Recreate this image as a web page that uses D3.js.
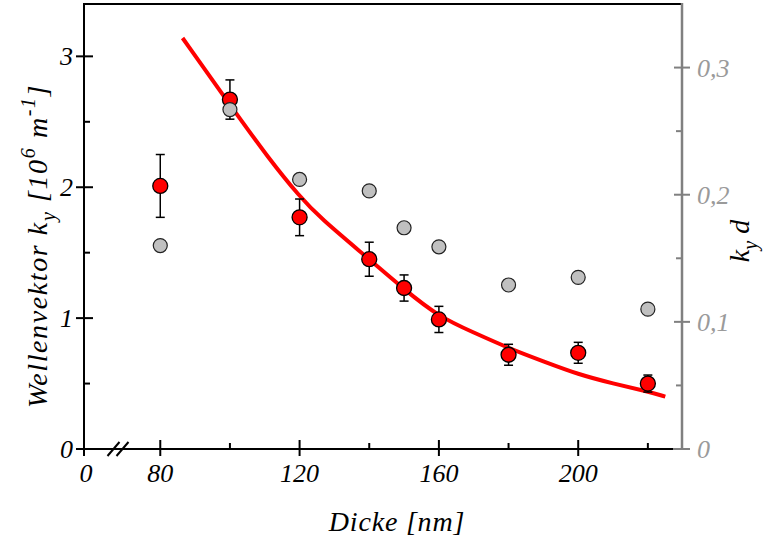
<!DOCTYPE html>
<html>
<head>
<meta charset="utf-8">
<script src="https://cdn.jsdelivr.net/npm/d3@7"></script>
<style>
  html, body { margin: 0; padding: 0; background: #fff; }
  svg { display: block; }
  text { font-family: "Liberation Serif", "Times New Roman", serif; font-style: italic; }
</style>
</head>
<body>
<svg id="chart" width="769" height="543"></svg>
<script>
// ---- data ----
const thickness = [80, 100, 120, 140, 150, 160, 180, 200, 220];          // Dicke [nm]
const ky        = [2.01, 2.67, 1.77, 1.45, 1.23, 0.99, 0.72, 0.735, 0.50]; // 10^6 m^-1
const kyErr     = [0.24, 0.15, 0.14, 0.13, 0.10, 0.10, 0.08, 0.08, 0.065];
const kyd       = [0.160, 0.267, 0.212, 0.203, 0.174, 0.159, 0.129, 0.135, 0.110];
const fitX      = [86.4, 100, 111.4, 120, 125.7, 140, 150, 160, 170, 180, 190, 200, 210, 220, 225];
const fitY      = [3.14, 2.63, 2.21, 1.93, 1.77, 1.45, 1.22, 1.01, 0.89, 0.77, 0.67, 0.57, 0.50, 0.44, 0.40];

const xTicks      = [80, 120, 160, 200];
const xMinorTicks = [100, 140, 180, 220];
const xBreakLabel = "0";
const yLeftTicks  = [0, 1, 2, 3];
const yLeftMinor  = [0.5, 1.5, 2.5];
const yRightTicks = [0, 0.1, 0.2, 0.3];
const yRightLabels = ["0", "0,1", "0,2", "0,3"];
const yRightMinor = [0.05, 0.15, 0.25];

// ---- layout ----
const L = 84, R = 682, T = 4, B = 449;
const svg = d3.select("#chart");
const x = d3.scaleLinear().domain([58.1, 229.8]).range([L, R]);
const yL = d3.scaleLinear().domain([0, 3.4]).range([B, T]);
const yR = d3.scaleLinear().domain([0, 0.35]).range([B, T]);
const breakAt = 68;

const black = "#000", grey = "#808080", greyText = "#9a9a9a";

// frame: top, left, bottom
svg.append("line").attr("x1", L).attr("x2", R - 1).attr("y1", T).attr("y2", T)
  .attr("stroke", black).attr("stroke-width", 2);
svg.append("line").attr("x1", L).attr("x2", L).attr("y1", T - 1).attr("y2", B)
  .attr("stroke", black).attr("stroke-width", 2);
svg.append("line").attr("x1", L - 1).attr("x2", R - 8).attr("y1", B).attr("y2", B)
  .attr("stroke", black).attr("stroke-width", 2);

// left axis ticks
yLeftTicks.forEach((v, i) => {
  svg.append("line").attr("x1", L - 8).attr("x2", L + 9).attr("y1", yL(v)).attr("y2", yL(v))
    .attr("stroke", black).attr("stroke-width", 2);
  svg.append("text").attr("x", L - 11).attr("y", yL(v) + 9).attr("text-anchor", "end")
    .attr("font-size", 26).attr("fill", black).text(String(v));
});
yLeftMinor.forEach(v => {
  svg.append("line").attr("x1", L).attr("x2", L + 6).attr("y1", yL(v)).attr("y2", yL(v))
    .attr("stroke", black).attr("stroke-width", 2);
});

// x axis ticks
xTicks.forEach(v => {
  svg.append("line").attr("x1", x(v)).attr("x2", x(v)).attr("y1", B - 9).attr("y2", B + 7)
    .attr("stroke", black).attr("stroke-width", 2);
  svg.append("text").attr("x", x(v)).attr("y", B + 33).attr("text-anchor", "middle")
    .attr("font-size", 26).attr("fill", black).text(String(v));
});
xMinorTicks.forEach(v => {
  svg.append("line").attr("x1", x(v)).attr("x2", x(v)).attr("y1", B - 6).attr("y2", B)
    .attr("stroke", black).attr("stroke-width", 2);
});
// origin tick + label for broken axis
svg.append("line").attr("x1", L).attr("x2", L).attr("y1", B).attr("y2", B + 7)
  .attr("stroke", black).attr("stroke-width", 2);
svg.append("text").attr("x", L + 2).attr("y", B + 33).attr("text-anchor", "middle")
  .attr("font-size", 26).attr("fill", black).text(xBreakLabel);
// break marks
[-5, 4].forEach(off => {
  const cx = x(breakAt) + off;
  svg.append("line").attr("x1", cx - 6).attr("x2", cx + 6).attr("y1", B + 7).attr("y2", B - 7)
    .attr("stroke", black).attr("stroke-width", 2);
});

// right axis (grey)
svg.append("line").attr("x1", R).attr("x2", R).attr("y1", T - 1).attr("y2", B + 1)
  .attr("stroke", grey).attr("stroke-width", 2.5);
svg.append("line").attr("x1", R - 9).attr("x2", R).attr("y1", B).attr("y2", B)
  .attr("stroke", grey).attr("stroke-width", 2);
yRightTicks.forEach((v, i) => {
  svg.append("line").attr("x1", R - 8).attr("x2", R + 8).attr("y1", yR(v)).attr("y2", yR(v))
    .attr("stroke", grey).attr("stroke-width", 2);
  svg.append("text").attr("x", R + 15).attr("y", yR(v) + 9).attr("text-anchor", "start")
    .attr("font-size", 26).attr("fill", greyText).text(yRightLabels[i]);
});
yRightMinor.forEach(v => {
  svg.append("line").attr("x1", R - 6).attr("x2", R).attr("y1", yR(v)).attr("y2", yR(v))
    .attr("stroke", grey).attr("stroke-width", 2);
});

// fit curve
const fit = fitX.map((d, i) => [d, fitY[i]]);
svg.append("path").datum(fit)
  .attr("d", d3.line().x(d => x(d[0])).y(d => yL(d[1])).curve(d3.curveBasis))
  .attr("fill", "none").attr("stroke", "#ff0000").attr("stroke-width", 4);

// error bars
thickness.forEach((t, i) => {
  const cx = x(t), y1 = yL(ky[i] + kyErr[i]), y2 = yL(ky[i] - kyErr[i]);
  const g = svg.append("g").attr("stroke", black).attr("stroke-width", 1.5);
  g.append("line").attr("x1", cx).attr("x2", cx).attr("y1", y1).attr("y2", y2);
  g.append("line").attr("x1", cx - 4.5).attr("x2", cx + 4.5).attr("y1", y1).attr("y2", y1);
  g.append("line").attr("x1", cx - 4.5).attr("x2", cx + 4.5).attr("y1", y2).attr("y2", y2);
});

// red points
svg.selectAll("circle.red").data(thickness).enter().append("circle")
  .attr("class", "red").attr("cx", d => x(d)).attr("cy", (d, i) => yL(ky[i])).attr("r", 7.5)
  .attr("fill", "#ff0000").attr("stroke", black).attr("stroke-width", 1.3);

// grey points
svg.selectAll("circle.grey").data(thickness).enter().append("circle")
  .attr("class", "grey").attr("cx", d => x(d)).attr("cy", (d, i) => yR(kyd[i])).attr("r", 7)
  .attr("fill", "#c0c0c0").attr("stroke", "#222").attr("stroke-width", 1.2);

// axis titles
svg.append("text").attr("x", 397).attr("y", 531).attr("text-anchor", "middle")
  .attr("font-size", 28).attr("fill", black).attr("letter-spacing", 0.8).text("Dicke [nm]");

const lt = svg.append("text").attr("transform", "translate(47,246) rotate(-90)")
  .attr("text-anchor", "middle").attr("font-size", 28).attr("fill", black)
  .attr("letter-spacing", 1.6);
lt.append("tspan").text("Wellenvektor k");
lt.append("tspan").attr("dy", 8).attr("font-size", 20).text("y");
lt.append("tspan").attr("dy", -8).text(" [10");
lt.append("tspan").attr("dy", -12).attr("font-size", 20).text("6");
lt.append("tspan").attr("dy", 12).text(" m");
lt.append("tspan").attr("dy", -12).attr("font-size", 20).text("-1");
lt.append("tspan").attr("dy", 12).text("]");

const rt = svg.append("text").attr("transform", "translate(749,241) rotate(-90)")
  .attr("text-anchor", "middle").attr("font-size", 28).attr("fill", black);
rt.append("tspan").text("k");
rt.append("tspan").attr("dy", 8).attr("font-size", 20).text("y");
rt.append("tspan").attr("dy", -8).text(" d");
</script>
</body>
</html>
